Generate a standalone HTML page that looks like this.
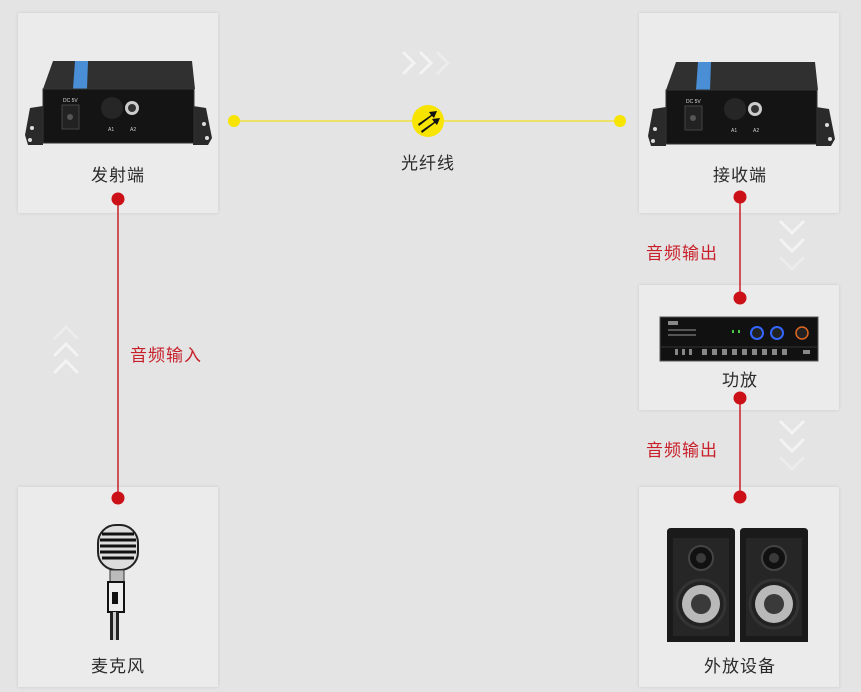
<!DOCTYPE html>
<html><head><meta charset="utf-8"><style>
body{margin:0;width:861px;height:692px;background:#e4e4e4;position:relative;overflow:hidden;font-family:"Liberation Sans","Noto Sans CJK SC",sans-serif}
.card{position:absolute;background:#ebebeb;box-shadow:0 0 3px rgba(0,0,0,0.12)}
.lbl{position:absolute;font-size:17px;color:#2a2a2a;transform:translateX(-50%);white-space:nowrap;letter-spacing:1px}
.red{position:absolute;font-size:17px;color:#c8202a;white-space:nowrap;letter-spacing:1px}
svg{position:absolute;left:0;top:0}
</style></head><body>
<div class="card" style="left:18px;top:13px;width:200px;height:200px"></div>
<div class="card" style="left:639px;top:13px;width:200px;height:200px"></div>
<div class="card" style="left:639px;top:285px;width:200px;height:125px"></div>
<div class="card" style="left:18px;top:487px;width:200px;height:200px"></div>
<div class="card" style="left:639px;top:487px;width:200px;height:200px"></div>

<svg width="861" height="692" viewBox="0 0 861 692">
<defs>
<g id="dev">
<path d="M25 135 L30 108 L43 106 L43 145 L28 145 Z" fill="#2a2a2a"/>
<path d="M193 106 L206 108 L212 138 L208 145 L193 145 Z" fill="#2a2a2a"/>
<circle cx="32" cy="128" r="2" fill="#ddd"/><circle cx="30" cy="140" r="2" fill="#ddd"/>
<circle cx="204" cy="124" r="2" fill="#ddd"/><circle cx="207" cy="138" r="2" fill="#ddd"/>
<path d="M53 61 L192 61 L195 89 L43 89 Z" fill="#303030"/>
<path d="M75 61 L88 61 L87 89 L73 89 Z" fill="#4a8fd6"/>
<rect x="43" y="89" width="151" height="54" fill="#141414" stroke="#333"/>
<rect x="62" y="105" width="17" height="24" fill="#222" stroke="#444"/>
<circle cx="70" cy="117" r="3" fill="#555"/>
<text x="63" y="102" font-size="5" fill="#ddd" font-family="Liberation Sans">DC 5V</text>
<circle cx="112" cy="108" r="11" fill="#262626"/>
<circle cx="132" cy="108" r="7" fill="#ccc"/><circle cx="132" cy="108" r="4" fill="#333"/>
<text x="108" y="131" font-size="5" fill="#ccc" font-family="Liberation Sans">A1</text>
<text x="130" y="131" font-size="5" fill="#ccc" font-family="Liberation Sans">A2</text>
</g>
<g id="spk">
<path d="M0 4 Q0 0 4 0 L64 0 Q68 0 68 4 L68 114 L0 114 Z" fill="#1a1a1a"/>
<rect x="6" y="10" width="56" height="98" fill="#262626"/>
<circle cx="34" cy="30" r="12" fill="#111" stroke="#444" stroke-width="2"/>
<circle cx="34" cy="30" r="5" fill="#3a3a3a"/>
<circle cx="34" cy="76" r="24" fill="#222" stroke="#333" stroke-width="3"/>
<circle cx="34" cy="76" r="19" fill="#b9b9b9"/>
<circle cx="34" cy="76" r="10" fill="#3a3a3a"/>
</g>
</defs>

<g fill="none" stroke="#f3f3f3" stroke-width="3" stroke-linecap="round">
<polyline points="404,53 414,63 404,73"/><polyline points="421,53 431,63 421,73"/><polyline points="438,53 448,63 438,73" stroke="#ececec"/>
<polyline points="55,338 66,327 77,338" stroke="#ececec"/><polyline points="55,355 66,344 77,355"/><polyline points="55,372 66,361 77,372"/>
<polyline points="781,222 792,233 803,222"/><polyline points="781,240 792,251 803,240"/><polyline points="781,258 792,269 803,258" stroke="#ececec"/>
<polyline points="781,422 792,433 803,422"/><polyline points="781,440 792,451 803,440"/><polyline points="781,458 792,469 803,458" stroke="#ececec"/>
</g>

<line x1="234" y1="121" x2="620" y2="121" stroke="#f0e040" stroke-width="1.5"/>
<circle cx="234" cy="121" r="6" fill="#f7e400"/><circle cx="620" cy="121" r="6" fill="#f7e400"/>
<circle cx="428" cy="121" r="16" fill="#f7e400"/>
<path d="M418 124 L431 115 L429 112 L437 111 L434 118 L432 116 L419 126 Z" fill="#111"/>
<path d="M421 131 L434 122 L432 119 L440 118 L437 125 L435 123 L422 133 Z" fill="#111"/>

<g stroke="#c8202a" stroke-width="1.5"><line x1="118" y1="199" x2="118" y2="498"/><line x1="740" y1="197" x2="740" y2="298"/><line x1="740" y1="398" x2="740" y2="497"/></g>
<g fill="#cc1018"><circle cx="118" cy="199" r="6.5"/><circle cx="118" cy="498" r="6.5"/><circle cx="740" cy="197" r="6.5"/><circle cx="740" cy="298" r="6.5"/><circle cx="740" cy="398" r="6.5"/><circle cx="740" cy="497" r="6.5"/></g>

<use href="#dev"/>
<use href="#dev" transform="translate(623,1)"/>

<rect x="660" y="317" width="158" height="44" fill="#111" stroke="#555"/>
<line x1="660" y1="347" x2="818" y2="347" stroke="#333"/>
<circle cx="757" cy="333" r="6" fill="#222" stroke="#36f" stroke-width="2"/>
<circle cx="777" cy="333" r="6" fill="#222" stroke="#36f" stroke-width="2"/>
<circle cx="802" cy="333" r="6" fill="#222" stroke="#d62" stroke-width="1.5"/>
<rect x="732" y="330" width="2" height="3" fill="#4c4"/><rect x="738" y="330" width="2" height="3" fill="#4c4"/>
<g fill="#888"><rect x="668" y="321" width="10" height="4"/><rect x="668" y="329" width="28" height="2" fill="#555"/><rect x="668" y="334" width="28" height="2" fill="#555"/>
<rect x="675" y="349" width="3" height="6"/><rect x="682" y="349" width="3" height="6"/><rect x="689" y="349" width="3" height="6"/>
<rect x="702" y="349" width="5" height="6"/><rect x="712" y="349" width="5" height="6"/><rect x="722" y="349" width="5" height="6"/><rect x="732" y="349" width="5" height="6"/><rect x="742" y="349" width="5" height="6"/><rect x="752" y="349" width="5" height="6"/><rect x="762" y="349" width="5" height="6"/><rect x="772" y="349" width="5" height="6"/><rect x="782" y="349" width="5" height="6"/><rect x="803" y="350" width="7" height="4"/></g>

<use href="#spk" transform="translate(667,528)"/>
<use href="#spk" transform="translate(740,528)"/>

<rect x="98" y="525" width="40" height="45" rx="18" fill="#ddd" stroke="#222" stroke-width="2"/>
<g stroke="#111" stroke-width="3"><line x1="102" y1="534" x2="134" y2="534"/><line x1="100" y1="540" x2="136" y2="540"/><line x1="100" y1="546" x2="136" y2="546"/><line x1="100" y1="552" x2="136" y2="552"/><line x1="102" y1="558" x2="134" y2="558"/></g>
<rect x="110" y="570" width="14" height="12" fill="#bbb" stroke="#333"/>
<rect x="108" y="582" width="16" height="30" fill="#eee" stroke="#111" stroke-width="2"/>
<rect x="112" y="592" width="6" height="12" fill="#111"/>
<rect x="110" y="612" width="9" height="28" fill="#222"/><rect x="113" y="612" width="3" height="28" fill="#ccc"/>
</svg>

<div class="lbl" style="left:118px;top:161px">发射端</div>
<div class="lbl" style="left:740px;top:161px">接收端</div>
<div class="lbl" style="left:428px;top:149px">光纤线</div>
<div class="lbl" style="left:740px;top:366px">功放</div>
<div class="lbl" style="left:118px;top:652px">麦克风</div>
<div class="lbl" style="left:740px;top:652px">外放设备</div>
<div class="red" style="left:130px;top:341px">音频输入</div>
<div class="red" style="left:646px;top:239px">音频输出</div>
<div class="red" style="left:646px;top:436px">音频输出</div>
</body></html>
